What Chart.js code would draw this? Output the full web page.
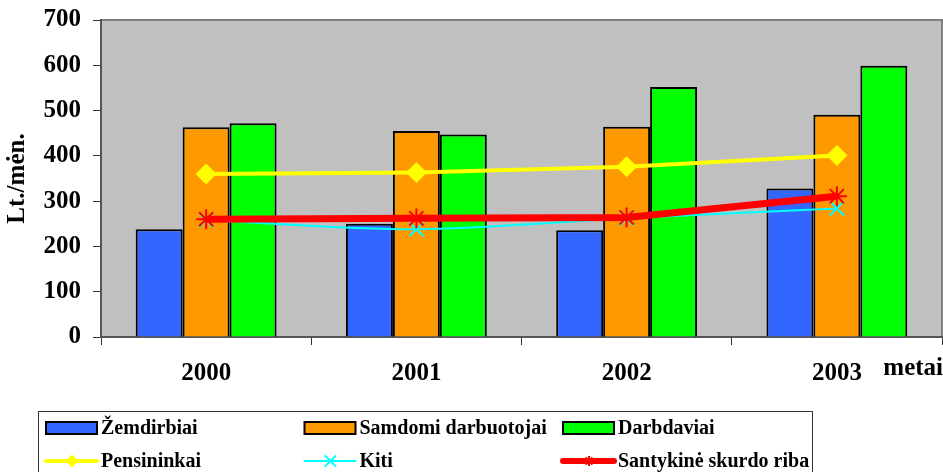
<!DOCTYPE html>
<html>
<head>
<meta charset="utf-8">
<script src="https://cdn.jsdelivr.net/npm/chart.js@4"></script>
<style>
  html, body { margin: 0; padding: 0; background: #fff; }
  #wrap { position: relative; width: 943px; height: 472px; }
</style>
</head>
<body>
<div id="wrap"><canvas id="incomeChart" width="943" height="472"></canvas></div>
<script>
const years = ["2000", "2001", "2002", "2003"];
const zemdirbiai = [238, 250, 236, 328];
const samdomi = [463, 455, 464, 491];
const darbdaviai = [472, 447, 552, 599];
const pensininkai = [360, 363, 376, 401];
const kiti = [258, 238, 262, 284];
const skurdoRiba = [260, 262, 264, 311];
const yTicks = [0, 100, 200, 300, 400, 500, 600, 700];

const serif = "'Liberation Serif', 'Times New Roman', serif";

// plot background + top/right border
const plotBackground = {
  id: "plotBackground",
  beforeDraw(chart) {
    const { ctx, chartArea: a } = chart;
    ctx.save();
    ctx.fillStyle = "#c0c0c0";
    ctx.fillRect(a.left, a.top, a.right - a.left, a.bottom - a.top);
    ctx.strokeStyle = "#808080";
    ctx.lineWidth = 2;
    ctx.beginPath();
    ctx.moveTo(a.left, a.top);
    ctx.lineTo(a.right, a.top);
    ctx.lineTo(a.right, a.bottom);
    ctx.stroke();
    ctx.restore();
  },
};

// year labels and the "metai" axis title
const xLabels = {
  id: "xLabels",
  afterDraw(chart) {
    const { ctx, chartArea: a } = chart;
    const x = chart.scales.x;
    ctx.save();
    ctx.font = "bold 25px " + serif;
    ctx.fillStyle = "#000";
    ctx.textBaseline = "middle";
    ctx.textAlign = "right";
    ctx.fillText("metai", a.right + 1, 369);
    ctx.textAlign = "center";
    years.forEach((y, i) => {
      ctx.fillText(y, x.getPixelForValue(i), 374);
    });
    ctx.restore();
  },
};

// legend box below the chart, 3 columns x 2 rows
const boxLegend = {
  id: "boxLegend",
  afterDraw(chart) {
    const { ctx } = chart;
    const ds = chart.data.datasets;
    const boxX = 38, boxY = 411, boxW = 774, colW = 258.5;
    const markerR = { rectRot: 6, crossRot: 8, star: 5 };
    ctx.save();
    ctx.fillStyle = "#fff";
    ctx.fillRect(boxX, boxY, boxW, 70);
    ctx.strokeStyle = "#333";
    ctx.lineWidth = 1;
    ctx.strokeRect(boxX + 0.5, boxY + 0.5, boxW, 70);
    ctx.font = "bold 20px " + serif;
    ctx.textBaseline = "middle";
    ds.forEach((d, i) => {
      const col = i % 3, row = Math.floor(i / 3);
      const sx = boxX + 8 + col * colW;
      const cy = 428 + row * 33;
      if (d.type === "bar") {
        ctx.fillStyle = d.backgroundColor;
        ctx.fillRect(sx, cy - 6, 51, 12);
        ctx.strokeStyle = "#000";
        ctx.lineWidth = 2;
        ctx.strokeRect(sx, cy - 6, 51, 12);
      } else {
        ctx.strokeStyle = d.borderColor;
        ctx.lineWidth = Math.min(d.borderWidth, 6);
        ctx.lineCap = "round";
        ctx.beginPath();
        ctx.moveTo(sx, cy);
        ctx.lineTo(sx + 51, cy);
        ctx.stroke();
        ctx.lineCap = "butt";
        ctx.fillStyle = d.pointBackgroundColor;
        ctx.strokeStyle = d.pointBorderColor;
        ctx.lineWidth = d.pointBorderWidth;
        Chart.helpers.drawPoint(ctx, {
          pointStyle: d.pointStyle,
          radius: markerR[d.pointStyle],
          borderWidth: d.pointBorderWidth,
        }, sx + 26, cy);
      }
      ctx.fillStyle = "#000";
      ctx.textAlign = "left";
      ctx.fillText(d.label, sx + 55, cy + 1);
    });
    ctx.restore();
  },
};

const barStyle = (color) => ({
  type: "bar",
  backgroundColor: color,
  borderColor: "#000",
  borderWidth: 2,
  borderSkipped: "bottom",
  order: 5,
});

new Chart(document.getElementById("incomeChart").getContext("2d"), {
  data: {
    labels: years,
    datasets: [
      { ...barStyle("#3366ff"), label: "Žemdirbiai", data: zemdirbiai },
      { ...barStyle("#ff9900"), label: "Samdomi darbuotojai", data: samdomi },
      { ...barStyle("#00ff00"), label: "Darbdaviai", data: darbdaviai },
      {
        type: "line",
        label: "Pensininkai",
        data: pensininkai,
        borderColor: "#ffff00",
        borderWidth: 4,
        pointStyle: "rectRot",
        pointRadius: 10,
        pointBackgroundColor: "#ffff00",
        pointBorderColor: "#ffff00",
        pointBorderWidth: 1,
        order: 3,
      },
      {
        type: "line",
        label: "Kiti",
        data: kiti,
        borderColor: "#00ffff",
        borderWidth: 2,
        tension: 0.3,
        pointStyle: "crossRot",
        pointRadius: 10,
        pointBackgroundColor: "#00ffff",
        pointBorderColor: "#00ffff",
        pointBorderWidth: 2,
        order: 2,
      },
      {
        type: "line",
        label: "Santykinė skurdo riba",
        data: skurdoRiba,
        borderColor: "#ff0000",
        borderWidth: 7,
        pointStyle: "star",
        pointRadius: 10,
        pointBackgroundColor: "#ff0000",
        pointBorderColor: "#ff0000",
        pointBorderWidth: 2,
        order: 1,
      },
    ],
  },
  options: {
    responsive: false,
    animation: false,
    datasets: {
      bar: { categoryPercentage: 0.67, barPercentage: 1 },
    },
    layout: { autoPadding: false, padding: { top: 20, right: 1, left: 0, bottom: 0 } },
    plugins: {
      legend: { display: false },
      tooltip: { enabled: false },
    },
    scales: {
      x: {
        type: "category",
        offset: true,
        grid: {
          offset: true,
          drawOnChartArea: false,
          drawTicks: true,
          tickLength: 8,
          color: "#333",
        },
        border: { color: "#555", width: 2 },
        ticks: { display: false },
        afterFit: (s) => { s.height = 135; },
      },
      y: {
        min: 0,
        max: 700,
        afterBuildTicks: (s) => { s.ticks = yTicks.map((v) => ({ value: v })); },
        grid: {
          drawOnChartArea: false,
          drawTicks: true,
          tickLength: 8,
          color: "#333",
        },
        border: { color: "#555", width: 2 },
        ticks: {
          padding: 12,
          color: "#000",
          font: { family: serif, size: 25, weight: "bold" },
        },
        title: {
          display: true,
          text: "Lt./mėn.",
          color: "#000",
          padding: { top: 3, bottom: 0 },
          font: { family: serif, size: 25, weight: "bold" },
        },
        afterFit: (s) => {
          s.width = 101;
          s.paddingTop = 0;
          s.paddingBottom = 0;
        },
      },
    },
  },
  plugins: [plotBackground, xLabels, boxLegend],
});
</script>
</body>
</html>
